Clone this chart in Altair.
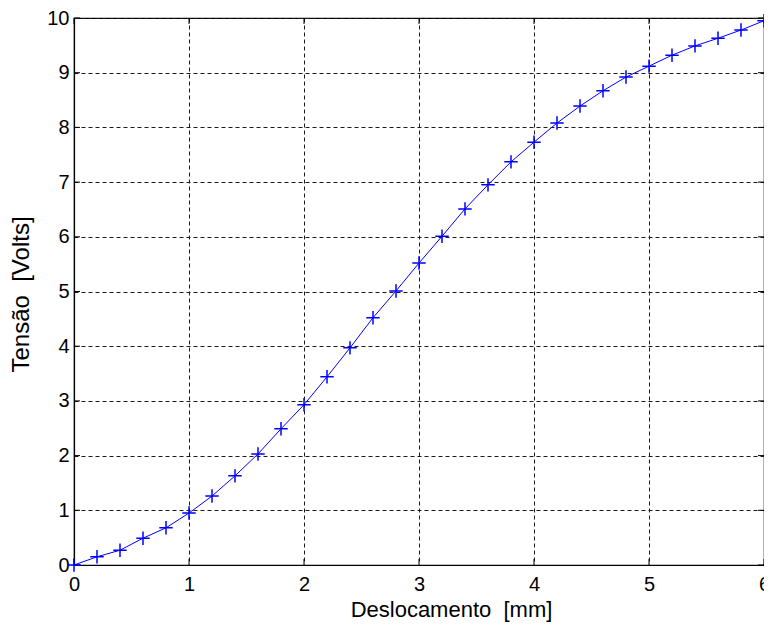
import altair as alt
import pandas as pd

deslocamento = [0.0, 0.2, 0.4, 0.6, 0.8, 1.0, 1.2, 1.4, 1.6, 1.8, 2.0, 2.2, 2.4, 2.6, 2.8, 3.0,
                3.2, 3.4, 3.6, 3.8, 4.0, 4.2, 4.4, 4.6, 4.8, 5.0, 5.2, 5.4, 5.6, 5.8, 6.0]
tensao = [0.0, 0.15, 0.27, 0.49, 0.68, 0.95, 1.26, 1.63, 2.03, 2.49, 2.93, 3.44, 3.97, 4.52, 5.01, 5.52,
          6.01, 6.51, 6.95, 7.37, 7.73, 8.08, 8.39, 8.67, 8.92, 9.12, 9.32, 9.49, 9.63, 9.78, 9.95]
x_ticks = [0, 1, 2, 3, 4, 5, 6]
y_ticks = [0, 1, 2, 3, 4, 5, 6, 7, 8, 9, 10]
x_title = "Deslocamento\u00a0\u00a0[mm]"
y_title = "Tensão\u00a0\u00a0[Volts]"

df = pd.DataFrame({"x": deslocamento, "y": tensao})
W, H = 690, 547
LABEL_FONT = "Liberation Sans Narrow, Liberation Sans, Arial, sans-serif"
TITLE_FONT = "Liberation Sans, Arial, sans-serif"
GRID = "#1a1a1a"

xs = alt.Scale(domain=[0, 6], nice=False)
ys = alt.Scale(domain=[0, 10], nice=False)

xaxis = alt.Axis(values=x_ticks, format="d", title=x_title, grid=True, gridColor=GRID,
                 gridDash=[4, 3], gridWidth=1, domainColor="black", domainWidth=1.2,
                 ticks=False, labelFont=LABEL_FONT, labelFontSize=20, labelColor="black",
                 labelPadding=9, titleFont=TITLE_FONT, titleFontSize=22,
                 titleFontWeight="normal", titleColor="black", titlePadding=5,
                 titleX=377, labelFlush=False)
yaxis = alt.Axis(values=y_ticks, format="d", title=y_title, grid=True, gridColor=GRID,
                 gridDash=[4, 3], gridWidth=1, domainColor="black", domainWidth=1.2,
                 ticks=False, labelFont=LABEL_FONT, labelFontSize=20, labelColor="black",
                 labelPadding=5, titleFont=LABEL_FONT, titleFontSize=24,
                 titleFontWeight="normal", titleColor="black", titlePadding=13,
                 titleY=276, labelFlush=False)

line = alt.Chart(df).mark_line(color="#0000ff", strokeWidth=1).encode(
    x=alt.X("x:Q", scale=xs, axis=xaxis),
    y=alt.Y("y:Q", scale=ys, axis=yaxis),
)
pts = alt.Chart(df).mark_point(
    shape="M-1,0L1,0M0,-1L0,1", color="#0000ff", size=180, strokeWidth=1.5, filled=False,
    opacity=1
).encode(x=alt.X("x:Q", scale=xs), y=alt.Y("y:Q", scale=ys))

xt = pd.DataFrame({"t": x_ticks})
yt = pd.DataFrame({"t": y_ticks})
xtick_b = alt.Chart(xt).mark_rule(color="black", strokeWidth=1).encode(
    x=alt.X("t:Q", scale=xs), y=alt.value(H), y2=alt.value(H - 6))
xtick_t = alt.Chart(xt).mark_rule(color="black", strokeWidth=1).encode(
    x=alt.X("t:Q", scale=xs), y=alt.value(0), y2=alt.value(6))
ytick_l = alt.Chart(yt).mark_rule(color="black", strokeWidth=1).encode(
    y=alt.Y("t:Q", scale=ys), x=alt.value(0), x2=alt.value(6))
ytick_r = alt.Chart(yt).mark_rule(color="black", strokeWidth=1).encode(
    y=alt.Y("t:Q", scale=ys), x=alt.value(W), x2=alt.value(W - 6))

chart = alt.layer(line, xtick_b, xtick_t, ytick_l, ytick_r, pts).properties(
    width=W, height=H,
    autosize=alt.AutoSizeParams(type="none"),
    padding={"left": 66, "top": 10, "right": 0, "bottom": 60},
    background="white",
).configure_view(stroke="black", strokeWidth=1.2)

chart.save("out.html", embed_options={"renderer": "svg", "actions": False})
